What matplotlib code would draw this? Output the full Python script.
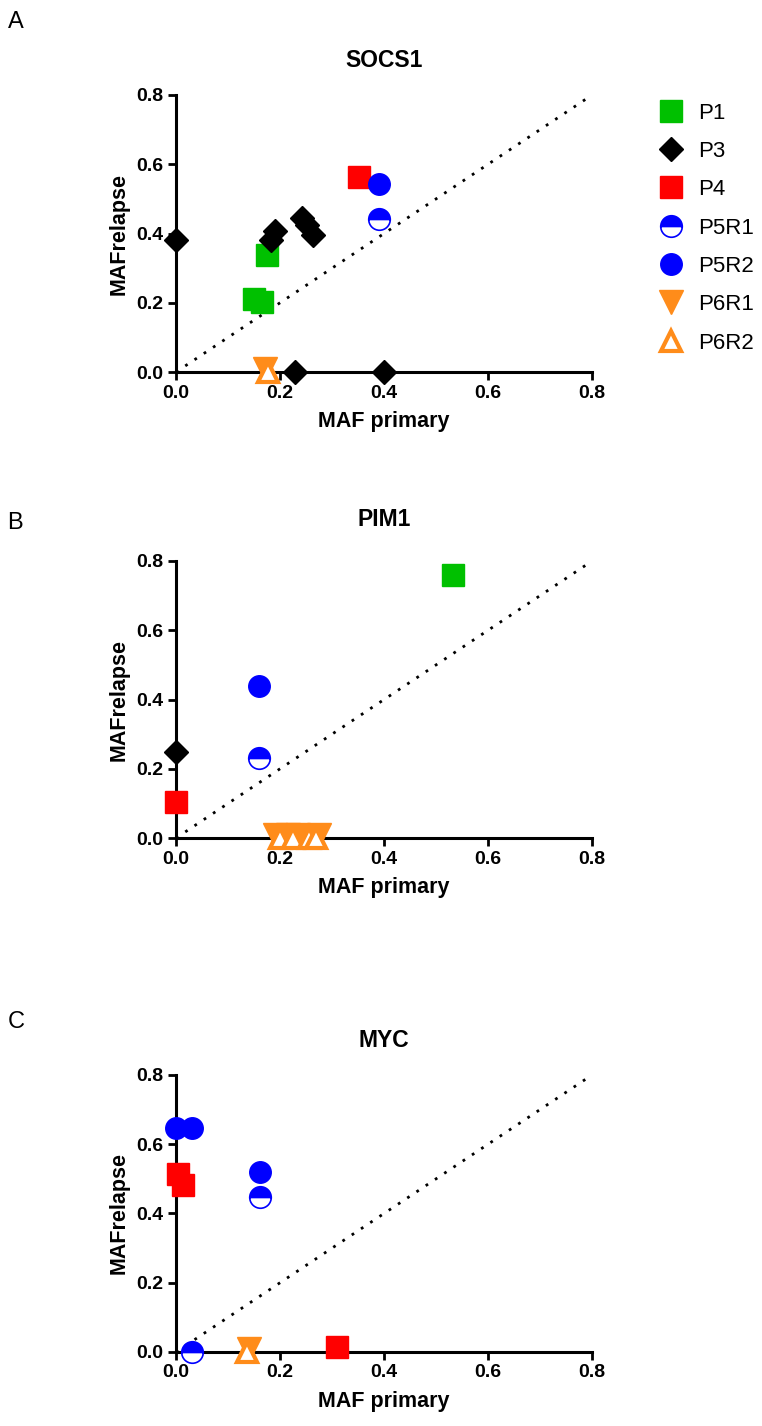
import matplotlib
matplotlib.use("Agg")
import matplotlib.pyplot as plt

plt.rcParams['font.family'] = ['Liberation Sans', 'DejaVu Sans']

# ---- data (MAF primary, MAF relapse) ----
series = ["P1", "P3", "P4", "P5R1", "P5R2", "P6R1", "P6R2"]

socs1_x = {
    "P1": [0.175, 0.15, 0.165],
    "P3": [0.0, 0.191, 0.182, 0.243, 0.252, 0.264, 0.228, 0.40],
    "P4": [0.352],
    "P5R1": [0.391],
    "P5R2": [0.391],
    "P6R1": [0.172],
    "P6R2": [0.176],
}
socs1_y = {
    "P1": [0.338, 0.211, 0.202],
    "P3": [0.38, 0.408, 0.38, 0.444, 0.425, 0.396, 0.0, 0.0],
    "P4": [0.563],
    "P5R1": [0.441],
    "P5R2": [0.542],
    "P6R1": [0.008],
    "P6R2": [0.0],
}

pim1_x = {
    "P1": [0.533],
    "P3": [0.0],
    "P4": [0.0],
    "P5R1": [0.159],
    "P5R2": [0.159],
    "P6R1": [0.19, 0.215, 0.235, 0.275],
    "P6R2": [0.20, 0.225, 0.255, 0.27],
}
pim1_y = {
    "P1": [0.76],
    "P3": [0.248],
    "P4": [0.105],
    "P5R1": [0.23],
    "P5R2": [0.439],
    "P6R1": [0.008, 0.008, 0.008, 0.008],
    "P6R2": [0.0, 0.0, 0.0, 0.0],
}

myc_x = {
    "P1": [],
    "P3": [],
    "P4": [0.004, 0.014, 0.31],
    "P5R1": [0.162, 0.03],
    "P5R2": [0.0, 0.03, 0.162],
    "P6R1": [0.14],
    "P6R2": [0.136],
}
myc_y = {
    "P1": [],
    "P3": [],
    "P4": [0.515, 0.481, 0.013],
    "P5R1": [0.448, 0.0],
    "P5R2": [0.648, 0.648, 0.52],
    "P6R1": [0.01],
    "P6R2": [0.0],
}

panels = [("A", "SOCS1", socs1_x, socs1_y),
          ("B", "PIM1", pim1_x, pim1_y),
          ("C", "MYC", myc_x, myc_y)]

green = "#00c000"
red = "#ff0000"
blue = "#0000ff"
orange = "#ff8c1a"

styles = {
    "P1": dict(marker="s", ms=16, mfc=green, mec=green),
    "P3": dict(marker="D", ms=12.5, mfc="black", mec="black"),
    "P4": dict(marker="s", ms=16, mfc=red, mec=red),
    "P5R1": dict(marker="o", ms=15.5, mfc=blue, mec=blue, fillstyle="top",
                 markerfacecoloralt="white", mew=1.2),
    "P5R2": dict(marker="o", ms=15.5, mfc=blue, mec=blue),
    "P6R1": dict(marker="v", ms=17, mfc=orange, mec=orange),
    "P6R2": dict(marker="^", ms=14, mfc="white", mec=orange, mew=3),
}

fig = plt.figure(figsize=(7.62, 14.26), dpi=100)

bottoms = [0.7391, 0.4123, 0.0519]
letter_y = [0.992, 0.641, 0.291]
title_pad = [20, 25, 20]

for i, (letter, title, xs, ys) in enumerate(panels):
    ax = fig.add_axes([0.231, bottoms[i], 0.546, 0.1943])
    ax.plot([0, 0.8], [0, 0.8], linestyle=(0, (1, 3)), color="black", lw=2)
    handles = []
    for s in series:
        h, = ax.plot(xs[s], ys[s], linestyle="none", clip_on=False, zorder=3,
                     **styles[s])
        handles.append(h)
    ax.set_xlim(0, 0.8)
    ax.set_ylim(0, 0.8)
    ticks = [0.0, 0.2, 0.4, 0.6, 0.8]
    ax.set_xticks(ticks)
    ax.set_yticks(ticks)
    ax.set_xticklabels(["%.1f" % t for t in ticks], fontweight="bold")
    ax.set_yticklabels(["%.1f" % t for t in ticks], fontweight="bold")
    ax.tick_params(labelsize=14, width=2, length=6, direction="out", pad=3)
    for sp in ["top", "right"]:
        ax.spines[sp].set_visible(False)
    for sp in ["left", "bottom"]:
        ax.spines[sp].set_linewidth(2.2)
    ax.set_title(title, fontsize=16.5, fontweight="bold", pad=title_pad[i])
    ax.set_xlabel("MAF primary", fontsize=15.5, fontweight="bold", labelpad=7)
    ax.set_ylabel("MAFrelapse", fontsize=15.5, fontweight="bold", labelpad=5)
    fig.text(0.010, letter_y[i], letter, fontsize=17, va="top")
    if i == 0:
        leg = ax.legend(handles, series, loc="upper left",
                        bbox_to_anchor=(1.11, 1.045), frameon=False,
                        fontsize=16, handlelength=1.2, handletextpad=0.6,
                        labelspacing=0.78, numpoints=1)

fig.savefig("out.png", dpi=100)
